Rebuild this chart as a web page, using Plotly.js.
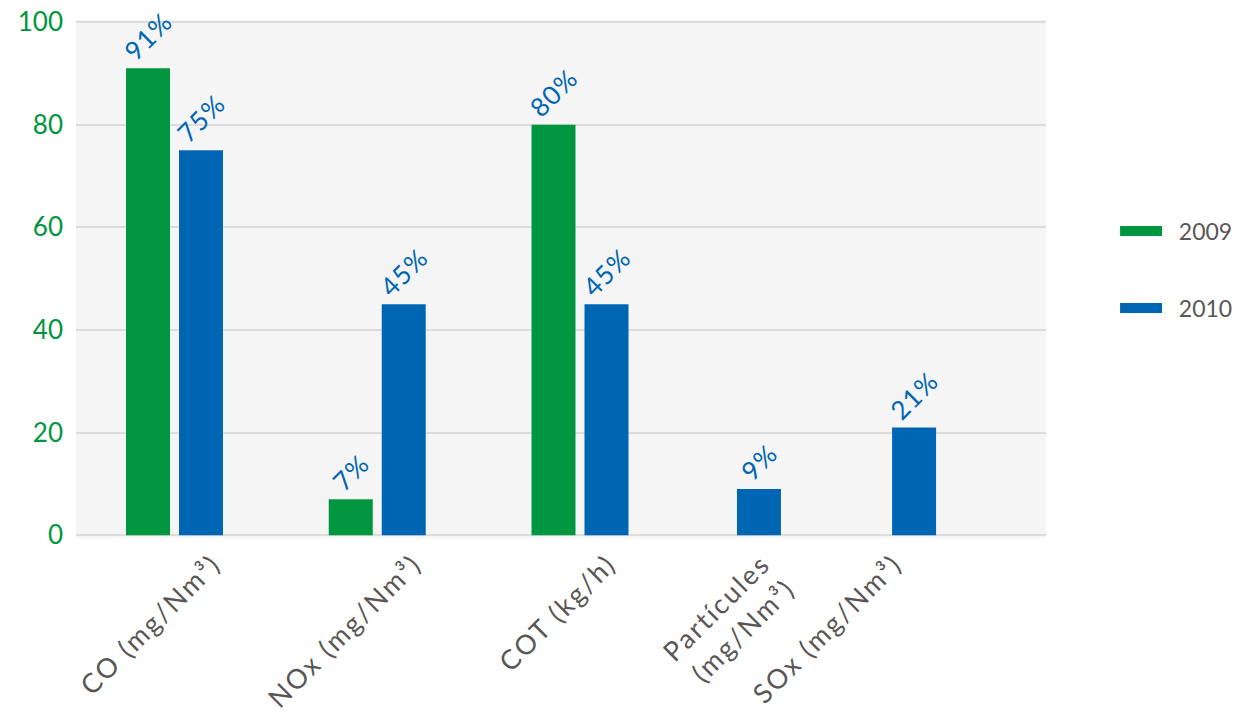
<!DOCTYPE html>
<html>
<head>
<meta charset="utf-8">
<script src="https://cdn.plot.ly/plotly-3.0.1.min.js"></script>
<style>
  html, body { margin: 0; padding: 0; background: #ffffff; }
  #chart { width: 1245px; height: 718px; }
  /* airy lettering for the category and value labels */
  #chart .xtick text { letter-spacing: 2.2px; }
  #chart .bars .point text { letter-spacing: 1.2px; }
</style>
</head>
<body>
<div id="chart"></div>
<script>
// Emission indicators, 2009 vs 2010 (values in %)
const categories = ['CO (mg/Nm³)', 'NOx (mg/Nm³)', 'COT (kg/h)', 'Partícules<br>(mg/Nm³)', 'SOx (mg/Nm³)'];
const values2009 = [91, 7, 80, null, null];
const values2010 = [75, 45, 45, 9, 21];
const yTicks = [0, 20, 40, 60, 80, 100];

// Layout helpers: where each category group sits and where its label is anchored
const groupPos = [0, 1, 2, 2.752, 3.517];
const labelPos = [0.19, 1.18, 2.14, 2.9, 3.55];

const GREEN = '#00963f';
const BLUE = '#0066b3';
const LABEL_GREY = '#5a5656';
const FONT = 'Lato, "Open Sans", sans-serif';

const barWidth = 0.217;
const pct = v => (v === null ? '' : v + '%');

const barCommon = {
  type: 'bar',
  x: groupPos,
  width: barWidth,
  textposition: 'outside',
  textangle: -45,
  constraintext: 'none',
  cliponaxis: false,
  outsidetextfont: { family: FONT, size: 26, color: BLUE },
  showlegend: false,
  hoverinfo: 'x+y'
};

const traces = [
  Object.assign({}, barCommon, {
    name: '2009', legendgroup: '2009',
    y: values2009, text: values2009.map(pct),
    offset: -0.2392,
    marker: { color: GREEN }
  }),
  Object.assign({}, barCommon, {
    name: '2010', legendgroup: '2010',
    y: values2010, text: values2010.map(pct),
    offset: 0.0222,
    marker: { color: BLUE }
  }),
  // legend entries drawn as wide swatches
  { type: 'scatter', mode: 'lines', x: [null], y: [null], name: '\u00a0\u00a02009', legendgroup: '2009',
    line: { color: GREEN, width: 13 }, hoverinfo: 'skip' },
  { type: 'scatter', mode: 'lines', x: [null], y: [null], name: '\u00a0\u00a02010', legendgroup: '2010',
    line: { color: BLUE, width: 13 }, hoverinfo: 'skip' }
];

const layout = {
  width: 1245,
  height: 718,
  margin: { l: 76, r: 199, t: 20, b: 180, autoexpand: false },
  paper_bgcolor: '#ffffff',
  plot_bgcolor: '#f5f5f5',
  barmode: 'overlay',
  font: { family: FONT, color: LABEL_GREY },
  xaxis: {
    range: [-0.4858, 4.2984],
    tickvals: labelPos,
    ticktext: categories,
    tickangle: -45,
    tickfont: { family: FONT, size: 27, color: LABEL_GREY },
    showgrid: false,
    zeroline: false,
    showline: false,
    ticks: '',
    ticklabelstandoff: 4,
    automargin: false
  },
  yaxis: {
    range: [-0.55, 100.4],
    tickvals: yTicks,
    ticktext: yTicks.map(String),
    tickfont: { family: FONT, size: 26, color: GREEN },
    gridcolor: '#dcdcdc',
    gridwidth: 2,
    zeroline: false,
    showline: false,
    ticks: '',
    ticklabelstandoff: 12,
    automargin: false
  },
  legend: {
    x: 1.0712,
    xanchor: 'left',
    y: 0.634,
    yanchor: 'top',
    font: { family: FONT, size: 23, color: LABEL_GREY },
    traceorder: 'grouped',
    tracegroupgap: 44,
    itemwidth: 42,
    bgcolor: 'rgba(0,0,0,0)'
  }
};

Plotly.newPlot('chart', traces, layout, { displayModeBar: false, staticPlot: true });
</script>
</body>
</html>
